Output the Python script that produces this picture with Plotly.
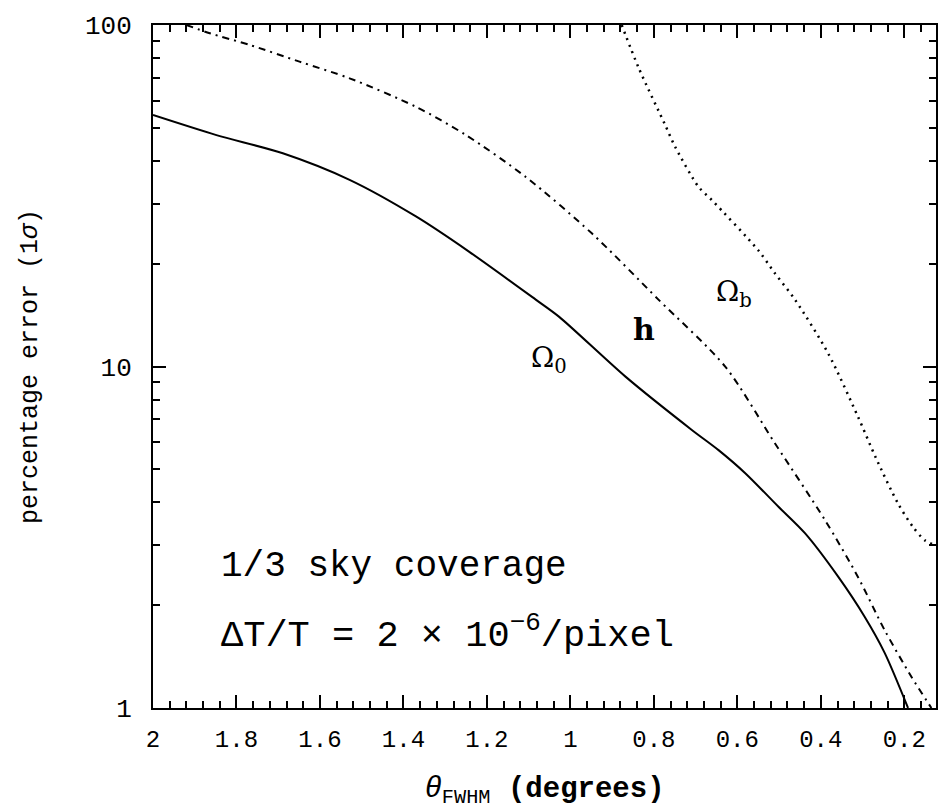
import plotly.graph_objects as go
import math

# Omega_0 (solid)
omega0_x = [2.0, 1.848, 1.689, 1.529, 1.370, 1.243, 1.083, 1.0275, 0.868, 0.709, 0.645, 0.581, 0.502, 0.438, 0.358, 0.295, 0.247, 0.191]
omega0_y = [54.5, 47.6, 42.1, 35.2, 27.5, 21.7, 15.7, 14.0, 9.34, 6.52, 5.69, 4.87, 3.89, 3.25, 2.42, 1.85, 1.45, 1.0]

# h (dash-dot)
h_x = [1.92, 1.864, 1.768, 1.649, 1.529, 1.370, 1.250, 1.107, 0.948, 0.789, 0.629, 0.510, 0.390, 0.311, 0.247, 0.183, 0.135]
h_y = [100.0, 94.6, 87.4, 78.1, 69.8, 57.6, 47.6, 35.9, 24.5, 15.7, 9.99, 5.96, 3.55, 2.42, 1.69, 1.235, 1.0]

# Omega_b (dotted)
omegab_x = [0.877, 0.836, 0.773, 0.749, 0.693, 0.661, 0.550, 0.510, 0.462, 0.382, 0.311, 0.268, 0.215, 0.180, 0.151, 0.127]
omegab_y = [100.0, 74.7, 51.0, 44.0, 33.6, 30.7, 21.9, 18.75, 15.7, 10.9, 7.13, 5.4, 3.97, 3.4, 3.10, 3.0]

x_ticks = [2, 1.8, 1.6, 1.4, 1.2, 1, 0.8, 0.6, 0.4, 0.2]
x_ticktext = ["2", "1.8", "1.6", "1.4", "1.2", "1", "0.8", "0.6", "0.4", "0.2"]
y_ticks = [1, 10, 100]
y_ticktext = ["1", "10", "100"]
y_minor = [2, 3, 4, 5, 6, 7, 8, 9, 20, 30, 40, 50, 60, 70, 80, 90]
x_minor = [round(0.12 + 0.04 * i, 2) for i in range(48)]

FONT = "Liberation Mono"
SERIF = "DejaVu Serif"

fig = go.Figure()
fig.add_trace(go.Scatter(x=omega0_x, y=omega0_y, mode="lines", line=dict(color="black", width=2, shape="spline", smoothing=0.8), showlegend=False))
fig.add_trace(go.Scatter(x=h_x, y=h_y, mode="lines", line=dict(color="black", width=2, dash="7px,5px,2px,5px", shape="spline", smoothing=0.8), showlegend=False))
fig.add_trace(go.Scatter(x=omegab_x, y=omegab_y, mode="lines", line=dict(color="black", width=2.5, dash="2px,5px", shape="spline", smoothing=0.8), showlegend=False))

annotations = [
    dict(x=1.051, y=math.log10(10.45), text="Ω<sub>0</sub>", font=dict(size=28, family=SERIF)),
    dict(x=0.824, y=math.log10(12.8), text="<b>h</b>", font=dict(size=30, family=SERIF)),
    dict(x=0.609, y=math.log10(16.4), text="Ω<sub>b</sub>", font=dict(size=28, family=SERIF)),
    dict(x=1.842, y=math.log10(2.59), text="1/3 sky coverage", font=dict(size=36, family=FONT), xanchor="left"),
    dict(x=1.842, y=math.log10(1.66), text="ΔT/T = 2 × 10<sup>−6</sup>/pixel", font=dict(size=37, family=FONT), xanchor="left"),
]
for a in annotations:
    a.setdefault("xanchor", "center")
    a.update(xref="x", yref="y", showarrow=False, yanchor="middle")
    a["font"].update(color="black")

fig.update_layout(
    width=939, height=809,
    margin=dict(l=153, r=1, t=25, b=101),
    paper_bgcolor="white", plot_bgcolor="white",
    font=dict(family=FONT, color="black", size=24),
    annotations=annotations,
    xaxis=dict(
        range=[2, 0.124], tickvals=x_ticks, ticktext=x_ticktext,
        ticks="inside", ticklen=13, tickwidth=2, tickcolor="black",
        showline=True, linecolor="black", linewidth=2, mirror="allticks",
        showgrid=False, zeroline=False, ticklabelstandoff=8,
        minor=dict(tickvals=x_minor, ticks="inside", ticklen=7, tickwidth=1.5, tickcolor="black", showgrid=False),
        tickfont=dict(size=24, family=FONT),
        title=dict(text="<i>θ</i><sub>FWHM</sub> <b>(degrees)</b>", font=dict(size=29, family=FONT), standoff=24),
    ),
    yaxis=dict(
        type="log", range=[0, 2], tickvals=y_ticks, ticktext=y_ticktext,
        ticks="inside", ticklen=13, tickwidth=2, tickcolor="black",
        showline=True, linecolor="black", linewidth=2, mirror="allticks",
        showgrid=False, zeroline=False, ticklabelstandoff=14,
        minor=dict(tickvals=y_minor, ticks="inside", ticklen=7, tickwidth=1.5, tickcolor="black", showgrid=False),
        tickfont=dict(size=26, family=FONT),
        title=dict(text="percentage error (1<i>σ</i>)", font=dict(size=25, family=FONT), standoff=40),
    ),
)

fig.write_html("out.html")
